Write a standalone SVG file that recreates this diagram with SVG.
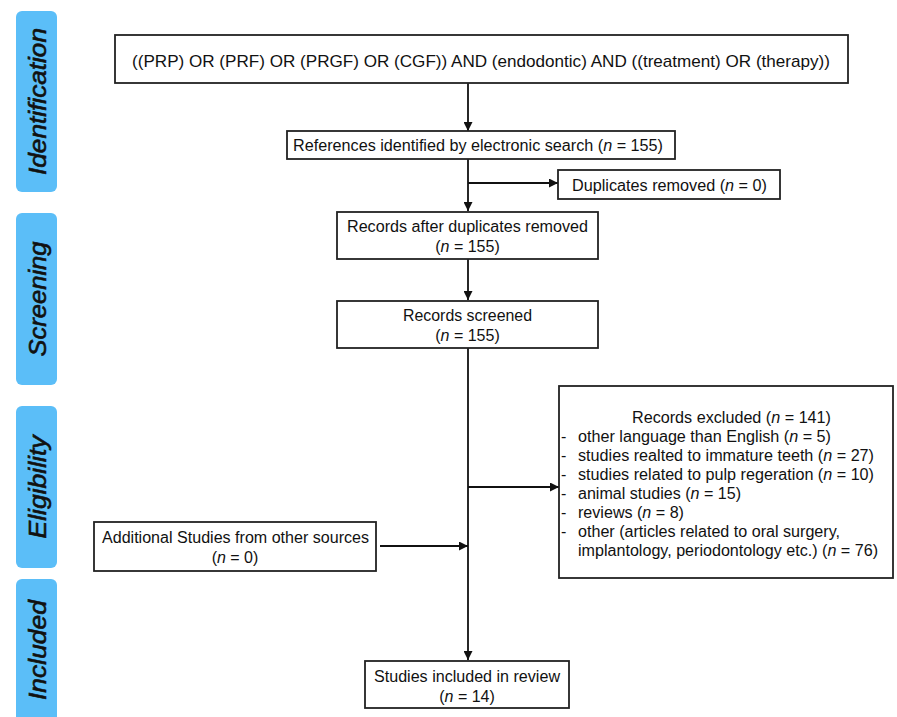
<svg xmlns="http://www.w3.org/2000/svg" width="897" height="717" viewBox="0 0 897 717">
<defs>
<style>
.bar{fill:#5BBEF8;}
.lab{font-family:"Liberation Sans",Arial,sans-serif;font-style:italic;font-size:24px;fill:#111;stroke:#111;stroke-width:0.6;text-anchor:middle;}
.box{fill:#fff;stroke:#222;stroke-width:1.8;}
.t{font-family:"Liberation Sans",Arial,sans-serif;font-size:16px;fill:#111;}
.c{text-anchor:middle;}
.i{font-style:italic;}
.ln{stroke:#111;stroke-width:1.8;fill:none;}
</style>
<marker id="ah" viewBox="0 0 10 10" refX="10" refY="5" markerWidth="9" markerHeight="9" markerUnits="userSpaceOnUse" orient="auto">
<path d="M0,0 L10,5 L0,10 z" fill="#111"/>
</marker>
</defs>
<rect width="897" height="717" fill="#fff"/>

<g id="stage-identification"><rect class="bar" x="16" y="11" width="41" height="181" rx="6"/><text class="lab" transform="translate(46,101.5) rotate(-90)" textLength="147" lengthAdjust="spacingAndGlyphs">Identification</text></g>
<g id="stage-screening"><rect class="bar" x="16" y="213" width="41" height="172" rx="6"/><text class="lab" transform="translate(46,299) rotate(-90)" textLength="115" lengthAdjust="spacingAndGlyphs">Screening</text></g>
<g id="stage-eligibility"><rect class="bar" x="16" y="406" width="41" height="162" rx="6"/><text class="lab" transform="translate(46,487) rotate(-90)" textLength="103" lengthAdjust="spacingAndGlyphs">Eligibility</text></g>
<g id="stage-included"><rect class="bar" x="16" y="579" width="41" height="160" rx="6"/><text class="lab" transform="translate(46,650) rotate(-90)" textLength="100" lengthAdjust="spacingAndGlyphs">Included</text></g>

<g id="connectors">
<line class="ln" x1="468" y1="83" x2="468" y2="131" marker-end="url(#ah)"/>
<line class="ln" x1="468" y1="159" x2="468" y2="211" marker-end="url(#ah)"/>
<line class="ln" x1="468" y1="183" x2="558" y2="183" marker-end="url(#ah)"/>
<line class="ln" x1="468" y1="259" x2="468" y2="300" marker-end="url(#ah)"/>
<line class="ln" x1="468" y1="348" x2="468" y2="660" marker-end="url(#ah)"/>
<line class="ln" x1="468" y1="487" x2="559" y2="487" marker-end="url(#ah)"/>
<line class="ln" x1="380" y1="546" x2="468" y2="546" marker-end="url(#ah)"/>
</g>

<g id="query"><rect class="box" x="115" y="35" width="733" height="48"/><text class="t c" x="481" y="67" style="font-size:17px" textLength="698" lengthAdjust="spacingAndGlyphs">((PRP) OR (PRF) OR (PRGF) OR (CGF)) AND (endodontic) AND ((treatment) OR (therapy))</text></g>

<g id="identified"><rect class="box" x="287" y="131" width="388" height="28"/><text class="t c" x="478" y="151" textLength="370" lengthAdjust="spacingAndGlyphs">References identified by electronic search (<tspan class="i">n</tspan> = 155)</text></g>

<g id="duplicates"><rect class="box" x="558" y="170" width="222" height="29"/><text class="t c" x="669.5" y="191" textLength="195" lengthAdjust="spacingAndGlyphs">Duplicates removed (<tspan class="i">n</tspan> = 0)</text></g>

<g id="after-duplicates"><rect class="box" x="337" y="212" width="261" height="47"/><text class="t c" x="467.5" y="232" textLength="241" lengthAdjust="spacingAndGlyphs">Records after duplicates removed</text><text class="t c" x="467.5" y="252">(<tspan class="i">n</tspan> = 155)</text></g>

<g id="screened"><rect class="box" x="337" y="301" width="261" height="47"/><text class="t c" x="467.5" y="321" textLength="129" lengthAdjust="spacingAndGlyphs">Records screened</text><text class="t c" x="467.5" y="341">(<tspan class="i">n</tspan> = 155)</text></g>

<g id="excluded"><rect class="box" x="559" y="386" width="334" height="192"/>
<text class="t c" x="731.5" y="423" textLength="199" lengthAdjust="spacingAndGlyphs">Records excluded (<tspan class="i">n</tspan> = 141)</text>
<text class="t" x="561" y="442">-</text><text class="t" x="578" y="442" textLength="253" lengthAdjust="spacingAndGlyphs">other language than English (<tspan class="i">n</tspan> = 5)</text>
<text class="t" x="561" y="461">-</text><text class="t" x="578" y="461" textLength="296" lengthAdjust="spacingAndGlyphs">studies realted to immature teeth (<tspan class="i">n</tspan> = 27)</text>
<text class="t" x="561" y="480">-</text><text class="t" x="578" y="480" textLength="296" lengthAdjust="spacingAndGlyphs">studies related to pulp regeration (<tspan class="i">n</tspan> = 10)</text>
<text class="t" x="561" y="499">-</text><text class="t" x="578" y="499" textLength="163" lengthAdjust="spacingAndGlyphs">animal studies (<tspan class="i">n</tspan> = 15)</text>
<text class="t" x="561" y="518">-</text><text class="t" x="578" y="518" textLength="106" lengthAdjust="spacingAndGlyphs">reviews (<tspan class="i">n</tspan> = 8)</text>
<text class="t" x="561" y="537">-</text><text class="t" x="578" y="537" textLength="262" lengthAdjust="spacingAndGlyphs">other (articles related to oral surgery,</text>
<text class="t" x="578" y="556" textLength="300" lengthAdjust="spacingAndGlyphs">implantology, periodontology etc.) (<tspan class="i">n</tspan> = 76)</text>
</g>

<g id="additional"><rect class="box" x="94" y="522" width="282" height="49"/><text class="t c" x="235.5" y="543" textLength="267" lengthAdjust="spacingAndGlyphs">Additional Studies from other sources</text><text class="t c" x="235" y="563">(<tspan class="i">n</tspan> = 0)</text></g>

<g id="included"><rect class="box" x="365" y="661" width="204" height="47"/><text class="t c" x="467" y="682" textLength="186" lengthAdjust="spacingAndGlyphs">Studies included in review</text><text class="t c" x="467" y="702">(<tspan class="i">n</tspan> = 14)</text></g>
</svg>
